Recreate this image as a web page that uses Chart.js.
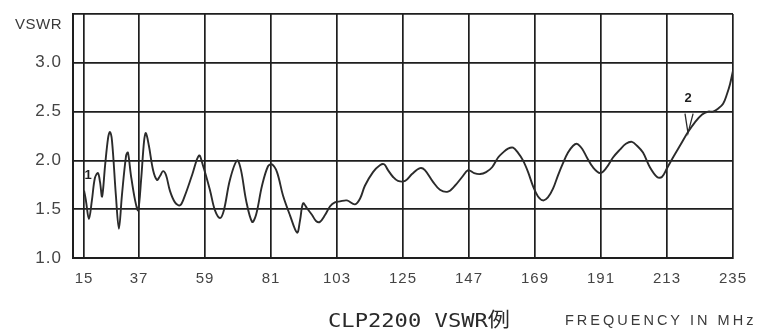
<!DOCTYPE html>
<html>
<head>
<meta charset="utf-8">
<script src="https://cdn.jsdelivr.net/npm/chart.js@4.4.1/dist/chart.umd.min.js"></script>
<style>
  html, body { margin: 0; padding: 0; background: #fff; }
</style>
</head>
<body>
<canvas id="vswr" width="759" height="336"></canvas>
<script>
// x tick labels (MHz) and y tick values (VSWR)
const xTicks = [15, 37, 59, 81, 103, 125, 147, 169, 191, 213, 235];
const yTicks = [1.0, 1.5, 2.0, 2.5, 3.0, 3.5];

// curve
const freq = [18.7, 19.3, 20.3, 21.3, 22.3, 23.3, 24.0, 24.7, 25.7, 26.7, 27.3, 28.0, 29.3, 30.3, 31.3,
  32.7, 33.3, 34.3, 35.7, 36.7, 37.7, 38.7, 39.3, 40.3, 41.7, 43.0, 44.0, 45.0, 46.0, 47.3, 49.0, 50.7,
  52.3, 54.7, 57.0, 58.3, 60.7, 62.3, 64.0, 65.3, 67.3, 69.7, 71.0, 72.7, 74.7, 76.0, 78.0, 80.0, 81.3,
  83.0, 85.0, 87.3, 89.7, 90.7, 91.7, 93.0, 94.7, 96.0, 97.3, 99.0, 100.7, 102.3, 104.0, 106.3, 109.0,
  110.7, 112.3, 115.0, 117.3, 118.7, 120.0, 121.7, 123.3, 125.7, 128.0, 130.7, 132.3, 135.0, 137.3,
  140.0, 142.3, 144.7, 146.7, 148.7, 150.7, 152.7, 154.7, 156.7, 158.3, 160.0, 161.7, 163.3, 165.0,
  166.7, 168.3, 170.0, 171.7, 173.3, 175.0, 176.7, 178.3, 180.0, 181.7, 183.0, 184.7, 186.3, 188.3,
  190.7, 192.7, 195.0, 197.3, 199.3, 201.3, 203.0, 205.0, 207.3, 209.7, 211.3, 213.0, 215.0, 217.3,
  220.0, 222.3, 224.7, 226.7, 228.3, 230.0, 231.7, 233.0, 234.0, 235.0];
const vswr = [1.69, 1.59, 1.40, 1.59, 1.82, 1.87, 1.78, 1.63, 1.95, 2.23, 2.29, 2.20, 1.64, 1.30, 1.64,
  2.05, 2.08, 1.85, 1.59, 1.49, 1.80, 2.20, 2.28, 2.15, 1.90, 1.80, 1.84, 1.89, 1.85, 1.69, 1.57, 1.54,
  1.64, 1.85, 2.05, 1.95, 1.69, 1.49, 1.41, 1.49, 1.80, 2.00, 1.90, 1.59, 1.37, 1.44, 1.74, 1.94, 1.96,
  1.88, 1.64, 1.44, 1.26, 1.39, 1.56, 1.51, 1.44, 1.38, 1.37, 1.44, 1.53, 1.57, 1.58, 1.59, 1.55,
  1.61, 1.74, 1.88, 1.95, 1.96, 1.90, 1.83, 1.79, 1.79, 1.86, 1.92, 1.90, 1.78, 1.70,
  1.68, 1.74, 1.83, 1.90, 1.87, 1.86, 1.88, 1.93, 2.03, 2.08, 2.12, 2.13, 2.08, 2.00,
  1.88, 1.74, 1.63, 1.59, 1.62, 1.71, 1.85, 1.97, 2.08, 2.15, 2.17, 2.12, 2.03, 1.93,
  1.87, 1.92, 2.03, 2.11, 2.17, 2.19, 2.15, 2.08, 1.93, 1.83, 1.83, 1.92, 2.03, 2.15,
  2.29, 2.39, 2.47, 2.50, 2.50, 2.53, 2.58, 2.68, 2.78, 2.92];

// small "v" pointer under marker 2
const markerFreq = [219.0, 220.0, 221.7];
const markerVswr = [2.48, 2.28, 2.48];

const ink = '#1e1e1e';

const textPlugin = {
  id: 'texts',
  beforeDraw(chart) {
    chart.ctx.letterSpacing = '1px';
  },
  afterDraw(chart) {
    const { ctx, chartArea, scales: { x, y } } = chart;
    ctx.save();
    ctx.fillStyle = '#3a3a3a';
    ctx.textBaseline = 'middle';

    ctx.letterSpacing = '0.5px';
    ctx.font = '15px "Liberation Sans"';
    ctx.textAlign = 'right';
    ctx.fillText('VSWR', chartArea.left - 11, chartArea.top + 11);

    // marker numbers
    ctx.letterSpacing = '0px';
    ctx.fillStyle = ink;
    ctx.textAlign = 'center';
    ctx.font = 'bold 13px "Liberation Sans"';
    ctx.fillText('2', x.getPixelForValue(220), y.getPixelForValue(2.63));
    ctx.fillText('1', x.getPixelForValue(20), y.getPixelForValue(1.85));

    // caption
    ctx.fillStyle = '#2a2a2a';
    ctx.font = '20px "DejaVu Sans Mono", "Noto Sans CJK JP"';
    ctx.textAlign = 'left';
    const cap = 'CLP2200 VSWR例';
    const w = ctx.measureText(cap).width;
    ctx.save();
    ctx.translate(328, 322);
    ctx.scale(182 / w, 1);
    ctx.fillText(cap, 0, 0);
    ctx.restore();

    ctx.fillStyle = '#3a3a3a';
    ctx.font = '14.5px "Liberation Sans"';
    ctx.letterSpacing = '3px';
    ctx.fillText('FREQUENCY IN MHz', 565, 321);
    ctx.restore();
  }
};

new Chart(document.getElementById('vswr'), {
  type: 'line',
  data: {
    datasets: [{
      data: freq.map((f, i) => ({ x: f, y: vswr[i] })),
      borderColor: '#2b2b2b',
      borderWidth: 1.9,
      pointRadius: 0,
      tension: 0.35,
      fill: false
    }, {
      data: markerFreq.map((f, i) => ({ x: f, y: markerVswr[i] })),
      borderColor: '#2b2b2b',
      borderWidth: 1.3,
      pointRadius: 0,
      tension: 0,
      fill: false
    }]
  },
  options: {
    responsive: false,
    animation: false,
    layout: { padding: { top: 14, right: 26, left: 0, bottom: 0 } },
    plugins: {
      legend: { display: false },
      tooltip: { enabled: false }
    },
    scales: {
      x: {
        type: 'linear',
        min: 15,
        max: 235,
        // first reference line of the original sits a bit right of the frame edge
        afterBuildTicks: axis => { axis.ticks = xTicks.map(v => ({ value: v === 15 ? 18.7 : v })); },
        afterFit: axis => {
          axis.height = 78;
          axis.paddingLeft = 0;
          axis.paddingRight = 0;
        },
        ticks: {
          autoSkip: false,
          maxRotation: 0,
          padding: 12,
          color: '#444',
          font: { family: 'Liberation Sans', size: 15 },
          callback: (v, i) => String(xTicks[i])
        },
        grid: { color: ink, lineWidth: 1.7, drawTicks: false },
        border: { color: ink, width: 2 }
      },
      y: {
        min: 1.0,
        max: 3.5,
        afterBuildTicks: axis => { axis.ticks = yTicks.map(v => ({ value: v })); },
        afterFit: axis => {
          axis.width = 73;
          axis.paddingTop = 0;
          axis.paddingBottom = 0;
        },
        ticks: {
          padding: 11,
          color: '#444',
          font: { family: 'Liberation Sans', size: 17 },
          callback: v => v > 3.2 ? '' : v.toFixed(1)
        },
        grid: { color: ink, lineWidth: 1.7, drawTicks: false },
        border: { color: ink, width: 2 }
      }
    }
  },
  plugins: [textPlugin]
});
</script>
</body>
</html>
